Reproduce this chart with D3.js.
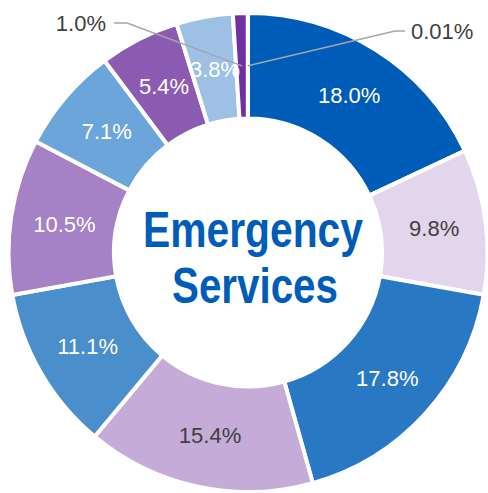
<!DOCTYPE html>
<html>
<head>
<meta charset="utf-8">
<script src="https://cdn.jsdelivr.net/npm/d3@7"></script>
<style>
  html, body { margin: 0; padding: 0; background: #ffffff; }
  svg { display: block; }
</style>
</head>
<body>
<svg id="chart" width="488" height="493"></svg>
<script>
// Share of emergency services, clockwise from 12 o'clock
const categories = ["A", "B", "C", "D", "E", "F", "G", "H", "I", "J", "K"];
const values = [18.0, 9.8, 17.8, 15.4, 11.1, 10.5, 7.1, 5.4, 3.8, 1.0, 0.01];
const labels = ["18.0%", "9.8%", "17.8%", "15.4%", "11.1%", "10.5%", "7.1%", "5.4%", "3.8%", "1.0%", "0.01%"];
const colors = ["#005cb9", "#e2d5ec", "#2878c3", "#c5abd8", "#4a8ecc", "#a681c5", "#6ca5d9", "#8a5bb1", "#9dc0e4", "#7030a0", "#5b3a9c"];
const labelColors = ["#ffffff", "#404040", "#ffffff", "#404040", "#ffffff", "#ffffff", "#ffffff", "#ffffff", "#ffffff", "#404040", "#404040"];
const titleLines = ["Emergency", "Services"];
// Slices whose labels sit outside the ring with a leader line
const outsideLabels = { "J": { side: -1, tx: 106, ty: 23 }, "K": { side: 1, tx: 411, ty: 31 } };

const cx = 248, cy = 252.5;
const outerR = 239.5, innerR = 134;

const svg = d3.select("#chart");
const g = svg.append("g").attr("transform", `translate(${cx},${cy})`);

const data = categories.map((c, i) => ({ cat: c, value: values[i], label: labels[i], color: colors[i], lc: labelColors[i] }));

const pie = d3.pie().value(d => d.value).sort(null);
const arc = d3.arc().innerRadius(innerR).outerRadius(outerR);
const arcs = pie(data);

g.selectAll("path.slice")
  .data(arcs)
  .join("path")
  .attr("class", "slice")
  .attr("d", arc)
  .attr("fill", d => d.data.color)
  .attr("stroke", "#ffffff")
  .attr("stroke-width", 4)
  .attr("stroke-linejoin", "miter");

const fontFam = "'Liberation Sans', Arial, sans-serif";

// Inside labels at arc centroids
g.selectAll("text.lbl")
  .data(arcs.filter(d => !outsideLabels[d.data.cat]))
  .join("text")
  .attr("class", "lbl")
  .attr("x", d => arc.centroid(d)[0] + 1)
  .attr("y", d => arc.centroid(d)[1])
  .attr("text-anchor", "middle")
  .attr("dy", "0.36em")
  .attr("font-family", fontFam)
  .attr("font-size", 22)
  .attr("fill", d => d.data.lc)
  .text(d => d.data.label);

// Outside labels with elbow leader lines to the slice centroid
arcs.filter(d => outsideLabels[d.data.cat]).forEach(d => {
  const o = outsideLabels[d.data.cat];
  const [px, py] = arc.centroid(d);
  const tx = o.tx - cx, ty = o.ty - cy;
  const x1 = tx + (o.side < 0 ? 8 : -6);
  const x2 = x1 + (o.side < 0 ? 13 : -10);
  g.append("polyline")
    .attr("points", `${x1},${ty} ${x2},${ty} ${px},${py}`)
    .attr("fill", "none")
    .attr("stroke", "#a6a6a6")
    .attr("stroke-width", 1.5);
  g.append("text")
    .attr("x", tx)
    .attr("y", ty)
    .attr("dy", "0.36em")
    .attr("text-anchor", o.side < 0 ? "end" : "start")
    .attr("font-family", fontFam)
    .attr("font-size", 22)
    .attr("fill", d.data.lc)
    .text(d.data.label);
});

// Centre title, set in a condensed bold face
const titleSpecs = [{ x: 253, y: 247, w: 220 }, { x: 255, y: 303, w: 166 }];
titleLines.forEach((line, i) => {
  const s = titleSpecs[i];
  svg.append("text")
    .attr("x", s.x - s.w / 2)
    .attr("y", s.y)
    .attr("textLength", s.w)
    .attr("lengthAdjust", "spacingAndGlyphs")
    .attr("font-family", fontFam)
    .attr("font-weight", "bold")
    .attr("font-size", 50)
    .attr("fill", "#005cb9")
    .text(line);
});
</script>
</body>
</html>
